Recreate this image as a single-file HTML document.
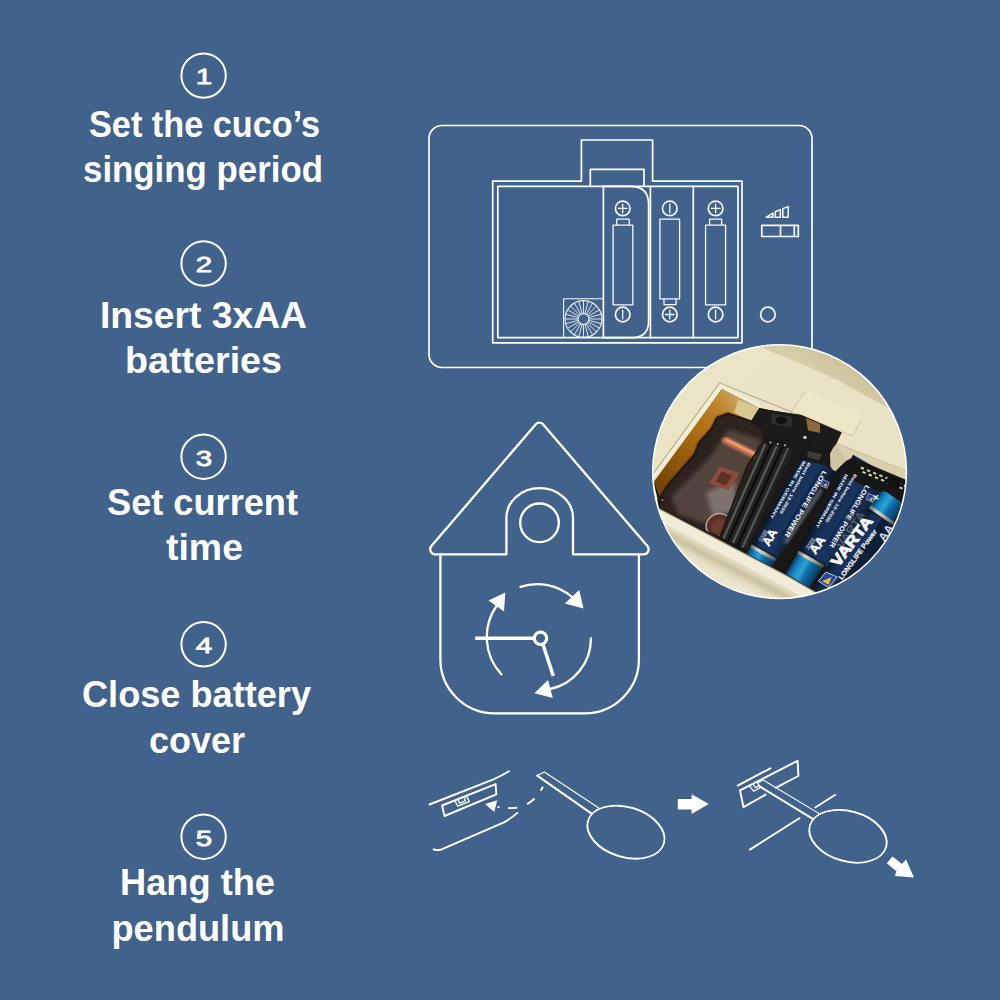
<!DOCTYPE html>
<html lang="en">
<head>
<meta charset="utf-8">
<title>Cuckoo clock setup steps</title>
<style>
html,body{margin:0;padding:0;background:#41628a;}
body{width:1000px;height:1000px;overflow:hidden;}
svg{display:block;}
.t{font-family:"Liberation Sans",sans-serif;font-weight:700;font-size:37px;fill:#fff;}
.n{font-family:"Liberation Sans",sans-serif;font-weight:400;font-size:22px;fill:#fff;stroke:#fff;stroke-width:.8;}
.c{fill:none;stroke:#fff;stroke-width:2;}
.l{fill:none;stroke:#fff;stroke-width:1.7;stroke-linejoin:round;stroke-linecap:round;}
.h{fill:none;stroke:#fff;stroke-width:2.3;stroke-linejoin:round;stroke-linecap:round;}
.p{fill:none;stroke:#fff;stroke-width:1.9;stroke-linejoin:round;stroke-linecap:round;}
.l1{fill:none;stroke:#f4f8fc;stroke-width:1.3;stroke-linejoin:round;stroke-linecap:round;}
</style>
</head>
<body>
<svg width="1000" height="1000" viewBox="0 0 1000 1000">
<rect width="1000" height="1000" fill="#41628a"/>

<!-- STEPS TEXT -->
<g id="steps">
<circle class="c" cx="203.6" cy="75.6" r="22.2"/>
<text class="n" x="195.8" y="84.3" textLength="16.4" lengthAdjust="spacingAndGlyphs">1</text>
<text class="t" x="89" y="136.7" textLength="231" lengthAdjust="spacingAndGlyphs">Set the cuco’s</text>
<text class="t" x="83" y="182" textLength="240" lengthAdjust="spacingAndGlyphs">singing period</text>

<circle class="c" cx="203.6" cy="263.5" r="22.2"/>
<text class="n" x="195.8" y="272.3" textLength="16.4" lengthAdjust="spacingAndGlyphs">2</text>
<text class="t" x="100" y="327.7" textLength="207" lengthAdjust="spacingAndGlyphs">Insert 3xAA</text>
<text class="t" x="125" y="372.5" textLength="157" lengthAdjust="spacingAndGlyphs">batteries</text>

<circle class="c" cx="203.6" cy="456.7" r="22.2"/>
<text class="n" x="195.8" y="465.5" textLength="16.4" lengthAdjust="spacingAndGlyphs">3</text>
<text class="t" x="107" y="514.5" textLength="191" lengthAdjust="spacingAndGlyphs">Set current</text>
<text class="t" x="166" y="560.4" textLength="77" lengthAdjust="spacingAndGlyphs">time</text>

<circle class="c" cx="203.6" cy="644.3" r="22.2"/>
<text class="n" x="195.8" y="653.1" textLength="16.4" lengthAdjust="spacingAndGlyphs">4</text>
<text class="t" x="82" y="706.7" textLength="229" lengthAdjust="spacingAndGlyphs">Close battery</text>
<text class="t" x="149" y="752.6" textLength="96" lengthAdjust="spacingAndGlyphs">cover</text>

<circle class="c" cx="203.6" cy="836.7" r="22.2"/>
<text class="n" x="195.8" y="845.5" textLength="16.4" lengthAdjust="spacingAndGlyphs">5</text>
<text class="t" x="120" y="895" textLength="155" lengthAdjust="spacingAndGlyphs">Hang the</text>
<text class="t" x="111.5" y="941" textLength="173" lengthAdjust="spacingAndGlyphs">pendulum</text>
</g>

<!-- BATTERY DIAGRAM -->
<g id="battery">
<rect class="l" x="429" y="125.5" width="383" height="242" rx="13" ry="13"/>
<path class="l" d="M492.7 342.8V181.2H581.4V140H652.6V181.2H742V342.8Z"/>
<path class="l" d="M497.8 186.3H738V337.6H497.8Z"/>
<path class="l" d="M590.3 186.3V169.3H644V186.3"/>
<path class="l" d="M603.4 186.3V337.6M650.4 186.3V337.6M693.3 186.3V337.6"/>
<path class="l" d="M603.4 186.3H631.5Q648.6 187 648.6 204V321Q648.6 337 633 337.6H603.4"/>
<circle class="l1" cx="622.7" cy="208.4" r="7.3" style="stroke-width:1.7"/><path class="l1" d="M622.7 204.1V212.7M618.4 208.4H627"/>
<circle class="l1" cx="669.8" cy="208.4" r="7.3" style="stroke-width:1.7"/><path class="l1" d="M669.8 204.1V212.7"/>
<circle class="l1" cx="715.6" cy="208.4" r="7.3" style="stroke-width:1.7"/><path class="l1" d="M715.6 204.1V212.7M711.3 208.4H719.9"/>
<circle class="l1" cx="622.7" cy="314.5" r="7.3" style="stroke-width:1.7"/><path class="l1" d="M622.7 310.2V318.8"/>
<circle class="l1" cx="669.8" cy="314.5" r="7.3" style="stroke-width:1.7"/><path class="l1" d="M669.8 310.2V318.8M665.5 314.5H674.1"/>
<circle class="l1" cx="715.6" cy="314.5" r="7.3" style="stroke-width:1.7"/><path class="l1" d="M715.6 310.2V318.8"/>
<path class="l1" d="M613.1 225.2H632.8V304.9H613.1ZM616.7 225.2V219.2H629.2V225.2"/>
<path class="l1" d="M659.9 219.2H679.6V298.9H659.9ZM664 298.9V304.6H676V298.9"/>
<path class="l1" d="M705.6 225.2H725.6V304.9H705.6ZM709.6 225.2V219.2H721.6V225.2"/>
<circle class="l1" cx="767.9" cy="314.5" r="7.3" style="stroke-width:1.7"/>
<path class="l1" style="stroke-width:1.7" d="M761.8 225.3H798.3V236.5H761.8ZM780.5 225.3V236.5M794.3 225.3V236.5"/>
<path class="l1" style="stroke-width:1.5" d="M766.3 217.2L773 213.2V217.2ZM775.3 217.2V211.8L780.3 209.6V217.2ZM782.8 217.2V208.6L788.2 206.6V217.2Z"/>
<path class="l1" style="stroke-width:1.1" d="M603.4 298.7H563.6V337.6"/>
<circle class="l1" style="stroke-width:1.1;opacity:.9" cx="583.5" cy="319" r="18.4"/>
<circle class="l1" style="stroke-width:1.1;opacity:.9" cx="583.5" cy="319" r="5.4"/>
<path class="l1" style="stroke-width:1;opacity:.85;stroke-linecap:butt" d="M588.90 319.00L601.90 319.00M588.72 320.40L601.27 323.76M588.18 321.70L599.43 328.20M587.32 322.82L596.51 332.01M586.20 323.68L592.70 334.93M584.90 324.22L588.26 336.77M583.50 324.40L583.50 337.40M582.10 324.22L578.74 336.77M580.80 323.68L574.30 334.93M579.68 322.82L570.49 332.01M578.82 321.70L567.57 328.20M578.28 320.40L565.73 323.76M578.10 319.00L565.10 319.00M578.28 317.60L565.73 314.24M578.82 316.30L567.57 309.80M579.68 315.18L570.49 305.99M580.80 314.32L574.30 303.07M582.10 313.78L578.74 301.23M583.50 313.60L583.50 300.60M584.90 313.78L588.26 301.23M586.20 314.32L592.70 303.07M587.32 315.18L596.51 305.99M588.18 316.30L599.43 309.80M588.72 317.60L601.27 314.24"/>
</g>

<!-- HOUSE -->
<g id="house">
<path class="h" d="M506.4 554.3H435.2 A5 5 0 0 1 431.4 546.1 L535.6 424.4 A5 5 0 0 1 543.2 424.4 L647.4 546.1 A5 5 0 0 1 643.6 554.3 H573 V518 A33.3 30 0 0 0 506.4 518Z"/>
<circle class="h" cx="539.5" cy="522.8" r="19.3"/>
<path class="h" d="M440.4 554.3V659.3A54 54 0 0 0 494.4 713.3H584.9A54 54 0 0 0 638.9 659.3V554.3"/>
<path class="h" style="stroke-width:3.5;stroke-linecap:butt" d="M475.2 638.3H534M543 644.5L553.3 676"/>
<circle class="h" style="stroke-width:3.2" cx="540.5" cy="638.3" r="6.2"/>
<path class="h" style="stroke-width:2.3" d="M501.3 674.3A54.8 54.8 0 0 1 496.5 606M520.5 586.8A53.6 53.6 0 0 1 572 597M590.9 638.3A51.5 51.5 0 0 1 550 689"/>
<path fill="#fff" d="M505.3 592.4L488.5 600.4L504 611.6ZM583.5 608.4L579.2 590L564.8 603.6ZM534.4 693.2L548 680.1L552.8 698Z"/>
</g>

<!-- PHOTO -->
<g id="photo" transform="translate(640 340) scale(.28)">
<defs>
<clipPath id="pc"><circle cx="498.5" cy="470" r="453"/></clipPath>
<filter id="b2" x="-20%" y="-20%" width="140%" height="140%"><feGaussianBlur stdDeviation="2"/></filter>
<filter id="b4" x="-20%" y="-20%" width="140%" height="140%"><feGaussianBlur stdDeviation="4"/></filter>
<filter id="b8" x="-30%" y="-30%" width="160%" height="160%"><feGaussianBlur stdDeviation="8"/></filter>
<filter id="b14" x="-40%" y="-40%" width="180%" height="180%"><feGaussianBlur stdDeviation="14"/></filter>
<linearGradient id="gcream" x1="0" y1="0" x2="1" y2="1"><stop offset="0" stop-color="#ece6c8"/><stop offset="1" stop-color="#e6dfc0"/></linearGradient>
<linearGradient id="gor" gradientUnits="userSpaceOnUse" x1="430" y1="240" x2="60" y2="510"><stop offset="0" stop-color="#d2b87c"/><stop offset=".28" stop-color="#bd8126"/><stop offset=".6" stop-color="#a4660f"/><stop offset="1" stop-color="#74450a"/></linearGradient>
<linearGradient id="gnavy" x1="0" y1="0" x2="1" y2="0"><stop offset="0" stop-color="#0a1626"/><stop offset=".18" stop-color="#163058"/><stop offset=".5" stop-color="#18355f"/><stop offset=".8" stop-color="#10233e"/><stop offset="1" stop-color="#08101c"/></linearGradient>
<linearGradient id="gblue" x1="0" y1="0" x2="1" y2="0"><stop offset="0" stop-color="#0a3f66"/><stop offset=".2" stop-color="#1583bd"/><stop offset=".42" stop-color="#2aa3d6"/><stop offset=".6" stop-color="#0f6ea8"/><stop offset="1" stop-color="#083557"/></linearGradient>
<linearGradient id="gsil" x1="0" y1="0" x2="1" y2="0"><stop offset="0" stop-color="#5a6a72"/><stop offset=".3" stop-color="#d9d6c4"/><stop offset=".55" stop-color="#b9b7a6"/><stop offset="1" stop-color="#3c4850"/></linearGradient>
</defs>
<g clip-path="url(#pc)">
<rect x="0" y="0" width="1000" height="1000" fill="url(#gcream)"/>
<linearGradient id="gband" gradientUnits="userSpaceOnUse" x1="640" y1="120" x2="720" y2="0"><stop offset="0" stop-color="#d6cea9"/><stop offset="1" stop-color="#c4bb92"/></linearGradient>
<polygon points="400,10 428,25 598,95 708,145 885,242 1000,300 1000,0 400,0" fill="url(#gband)" filter="url(#b2)"/>
<path d="M540 258L588 186Q596 172 612 180L782 256Q798 264 790 280L768 330Q762 342 748 338L720 328L575 266Z" fill="#ede6c7" stroke="#d3cba6" stroke-width="4"/>
<path d="M590 184Q596 172 612 180L782 256Q798 264 790 280" fill="none" stroke="#f6f2dc" stroke-width="3"/>
<polygon points="699,368 1000,486 1000,560 740,440 700,425" fill="#d9d1ae"/>
<path d="M699 368L1000 486" stroke="#c9c19c" stroke-width="4" filter="url(#b2)"/>
<polygon points="293,175 426,243 460,250 575,268 720,330 700,372 690,385 740,440 1000,560 1000,1000 700,1000 640,905 536,846 71,601 50,513" fill="#181716"/>
<polygon points="678,366 700,372 738,430 716,452 694,474 678,448" fill="#cfc4a0"/>
<polygon points="293,175 426,243 396,290 316,263 276,278 256,318 211,368 196,408 101,518 72,566 50,505" fill="url(#gor)"/>
<polygon points="352,214 426,243 396,290 336,258" fill="#d9c791" filter="url(#b2)"/>
<path d="M316 263L276 278L256 318L211 368L196 408L101 518L72 566" fill="none" stroke="#4a2a10" stroke-width="9" filter="url(#b4)"/>
<path d="M52 500L293 172L432 242" stroke="#f1edd6" stroke-width="13" fill="none" stroke-linejoin="miter" transform="translate(-5 -7)"/>
<path d="M44 482L284 153L542 257" stroke="#a9a27a" stroke-width="4" fill="none" stroke-linejoin="miter" filter="url(#b2)" opacity=".85"/>
<polygon points="316,263 396,290 440,320 446,358 386,446 286,706 226,681 71,601 66,571 101,518 196,408 211,368 256,318 276,278" fill="#2f2320"/>
<polygon points="316,318 436,358 380,470 330,590 236,656 136,621 111,561 250,420" fill="#54463f" filter="url(#b8)" opacity=".95"/>
<polygon points="236,546 336,496 346,611 261,631" fill="#7d726c" filter="url(#b8)"/>
<polygon points="246,511 286,451 356,476 316,536" fill="#8c4c3c" filter="url(#b2)"/>
<polygon points="270,505 292,470 330,485 306,520" fill="#5c3028" filter="url(#b2)"/>
<polygon points="266,300 300,312 190,470 160,455" fill="#2c201d" filter="url(#b2)"/>
<path d="M306 358L416 413" stroke="#c67650" stroke-width="26" stroke-linecap="round" filter="url(#b4)"/>
<path d="M312 358L408 406" stroke="#ee9a70" stroke-width="10" stroke-linecap="round" filter="url(#b2)"/>
<ellipse cx="281" cy="661" rx="46" ry="40" fill="#5a3028" stroke="#b8aaa0" stroke-width="5" transform="rotate(-25 281 661)"/>
<ellipse cx="283" cy="665" rx="30" ry="25" fill="#6b3a30" transform="rotate(-25 283 665)"/>
<circle cx="80" cy="572" r="9" fill="#1d1512"/><circle cx="80" cy="572" r="4" fill="#8d8078"/>
<polygon points="316,263 396,290 440,320 446,358 386,446 286,706 226,681 71,601 66,571 101,518 196,408 211,368 256,318 276,278" fill="none" stroke="#241815" stroke-width="8" stroke-linejoin="round"/>
<polygon points="396,290 426,243 460,250 575,268 720,330 700,372 690,385 660,440 600,430 560,420 560,362 446,340 436,318" fill="#1b1b1a"/>
<polygon points="470,262 545,276 540,312 470,300" fill="#2e2e2c"/>
<ellipse cx="505" cy="287" rx="20" ry="14" fill="#111"/>
<polygon points="593,279 643,300 643,332 600,322" fill="#8a6a3a" filter="url(#b2)"/>
<polygon points="614,375 643,382 643,430 620,425" fill="#6a5a4a" filter="url(#b2)"/>
<circle cx="589" cy="348" r="6" fill="#d8d4c8"/>
<circle cx="594" cy="392" r="4" fill="#b8b4a8"/>
<polygon points="446,340 560,362 381,748 286,704" fill="#222221"/>
<path d="M460.2 342.8L297.9 709.5" stroke="#5a5a56" stroke-width="8"/>
<path d="M480.6 346.7L314.8 717.4" stroke="#0c0c0c" stroke-width="8"/>
<path d="M501.0 350.6L331.8 725.2" stroke="#5a5a56" stroke-width="8"/>
<path d="M521.3 354.5L348.8 733.1" stroke="#0c0c0c" stroke-width="8"/>
<path d="M541.7 358.5L365.7 740.9" stroke="#545456" stroke-width="8"/>
<polygon points="440,338 566,360 560,392 436,368" fill="#19191a"/>
<circle cx="466" cy="366" r="3.5" fill="#c9c9c4"/>
<circle cx="492" cy="371" r="3.5" fill="#c9c9c4"/>
<circle cx="518" cy="376" r="3.5" fill="#c9c9c4"/>
<polygon points="560,362 600,430 420,790 381,748" fill="#1c1a19"/>
</g>
<g clip-path="url(#pc)">
<g transform="translate(396 736) rotate(29.5)">
<polygon points="0,-385 141,-381 102.7,-6 0,-6" fill="url(#gnavy)"/>
<polygon points="0,5 101.5,5 91,115 0,115" fill="url(#gblue)"/>
<polygon points="0,-7 102.7,-7 101.4,6 0,6" fill="url(#gsil)"/>
<polygon points="0,-12 103,-12 102.7,-7 0,-7" fill="#0a1422" opacity=".7"/>
<polygon points="112,-300 128,-300 110,-70 94,-70" fill="#8a8078" opacity=".55" filter="url(#b4)"/>
<path d="M84 -360L76 -60" stroke="#0a1626" stroke-width="3" opacity=".8"/>
</g>
<g transform="translate(564 758) rotate(29.5)">
<polygon points="0,-400 175,-400 150,-6 0,-6" fill="url(#gnavy)"/>
<polygon points="0,5 104,5 96,100 0,100" fill="url(#gblue)"/>
<path d="M0 96Q50 122 100 96V130H0Z" fill="#0a0d12"/>
<polygon points="0,-7 105,-7 104,6 0,6" fill="url(#gsil)"/>
<polygon points="0,-12 105,-12 105,-7 0,-7" fill="#0a1422" opacity=".7"/>
<path d="M84 -390L76 -60" stroke="#0a1626" stroke-width="3" opacity=".8"/>
</g>
<polygon points="556,418 600,372 678,388 680,448 676,452 572,424" fill="#191919"/>
<polygon points="600,396 650,408 640,430 596,418" fill="#3a3a38" filter="url(#b2)"/>
<polygon points="716,452 738,430 760,420 1000,520 1000,600 900,560 800,520 730,486 694,474" fill="#161616"/>
<rect x="790" y="452" width="12" height="7" fill="#d9d3b8" transform="rotate(22 790 452)"/>
<rect x="796" y="468" width="12" height="7" fill="#d9d3b8" transform="rotate(22 796 468)"/>
<rect x="812" y="461.2" width="12" height="7" fill="#d9d3b8" transform="rotate(22 812 461.2)"/>
<rect x="818" y="477.2" width="12" height="7" fill="#d9d3b8" transform="rotate(22 818 477.2)"/>
<rect x="834" y="470.4" width="12" height="7" fill="#d9d3b8" transform="rotate(22 834 470.4)"/>
<rect x="840" y="486.4" width="12" height="7" fill="#d9d3b8" transform="rotate(22 840 486.4)"/>
<rect x="856" y="479.6" width="12" height="7" fill="#d9d3b8" transform="rotate(22 856 479.6)"/>
<rect x="862" y="495.6" width="12" height="7" fill="#d9d3b8" transform="rotate(22 862 495.6)"/>
<rect x="878" y="488.8" width="12" height="7" fill="#d9d3b8" transform="rotate(22 878 488.8)"/>
<rect x="884" y="504.8" width="12" height="7" fill="#d9d3b8" transform="rotate(22 884 504.8)"/>
<rect x="900" y="498" width="12" height="7" fill="#d9d3b8" transform="rotate(22 900 498)"/>
<rect x="906" y="514" width="12" height="7" fill="#d9d3b8" transform="rotate(22 906 514)"/>
<rect x="922" y="507.2" width="12" height="7" fill="#d9d3b8" transform="rotate(22 922 507.2)"/>
<rect x="928" y="523.2" width="12" height="7" fill="#d9d3b8" transform="rotate(22 928 523.2)"/>
<rect x="944" y="516.4" width="12" height="7" fill="#d9d3b8" transform="rotate(22 944 516.4)"/>
<rect x="950" y="532.4" width="12" height="7" fill="#d9d3b8" transform="rotate(22 950 532.4)"/>
<rect x="966" y="525.6" width="12" height="7" fill="#d9d3b8" transform="rotate(22 966 525.6)"/>
<rect x="972" y="541.6" width="12" height="7" fill="#d9d3b8" transform="rotate(22 972 541.6)"/>
<ellipse cx="905" cy="508" rx="28" ry="16" fill="#111" transform="rotate(22 905 508)"/>
<g transform="translate(820 596) rotate(35)">
<rect x="0" y="4" width="150" height="420" fill="url(#gnavy)"/>
<rect x="60" y="4" width="90" height="420" fill="#0e2038"/>
<path d="M0 -6V-60Q2 -76 22 -78H100V-6Z" fill="url(#gblue)"/>
<rect x="0" y="-7" width="110" height="13" fill="url(#gsil)"/>
<rect x="0" y="6" width="110" height="5" fill="#0a1422" opacity=".6"/>
</g>
<text transform="translate(653.6 465.0) rotate(120.5)" font-family="Liberation Sans, sans-serif" font-weight="700" font-size="23" textLength="271" lengthAdjust="spacingAndGlyphs" fill="#fff">LONGLIFE POWER</text>
<text transform="translate(601.0 437.0) rotate(119.6)" font-family="Liberation Sans, sans-serif" font-weight="700" font-size="15" textLength="207" lengthAdjust="spacingAndGlyphs" fill="#fff">Best before 12-2030</text>
<text transform="translate(583.0 430.0) rotate(120.2)" font-family="Liberation Sans, sans-serif" font-weight="700" font-size="15" textLength="237" lengthAdjust="spacingAndGlyphs" fill="#fff">MADE IN GERMANY</text>
<text transform="translate(460.5 739.3) rotate(-60.0)" font-family="Liberation Sans, sans-serif" font-weight="700" font-size="42" textLength="62" lengthAdjust="spacingAndGlyphs" fill="#fff" stroke="#fff" stroke-width="1.5">AA</text>
<text transform="translate(436.0 722.0) rotate(-60.0)" font-family="Liberation Sans, sans-serif" font-weight="700" font-size="9" textLength="44" lengthAdjust="spacingAndGlyphs" fill="#e8e8e8">LR6·MN1500</text>
<text transform="translate(428.0 718.0) rotate(-60.0)" font-family="Liberation Sans, sans-serif" font-weight="700" font-size="9" textLength="44" lengthAdjust="spacingAndGlyphs" fill="#e8e8e8">1.5V ALKALINE</text>
<polygon points="652,498 676,508 668,530 644,520" fill="#2440a0" stroke="#dfe4f0" stroke-width="2"/>
<polygon points="654,518 668,512 664,526" fill="#f0c020"/>
<text transform="translate(807.0 516.0) rotate(120.8)" font-family="Liberation Sans, sans-serif" font-weight="700" font-size="23" textLength="256" lengthAdjust="spacingAndGlyphs" fill="#fff">LONGLIFE POWER</text>
<text transform="translate(766.0 478.0) rotate(121.5)" font-family="Liberation Sans, sans-serif" font-weight="700" font-size="15" textLength="199" lengthAdjust="spacingAndGlyphs" fill="#fff">Best before 12-2030</text>
<text transform="translate(734.0 478.0) rotate(119.5)" font-family="Liberation Sans, sans-serif" font-weight="700" font-size="15" textLength="218" lengthAdjust="spacingAndGlyphs" fill="#fff">MADE IN GERMANY</text>
<text transform="translate(627.0 768.0) rotate(-55.0)" font-family="Liberation Sans, sans-serif" font-weight="700" font-size="44" textLength="66" lengthAdjust="spacingAndGlyphs" fill="#fff" stroke="#fff" stroke-width="1.5">AA</text>
<text transform="translate(603.0 750.0) rotate(-55.0)" font-family="Liberation Sans, sans-serif" font-weight="700" font-size="9" textLength="44" lengthAdjust="spacingAndGlyphs" fill="#e8e8e8">LR6·MN1500</text>
<text transform="translate(595.0 745.0) rotate(-55.0)" font-family="Liberation Sans, sans-serif" font-weight="700" font-size="9" textLength="44" lengthAdjust="spacingAndGlyphs" fill="#e8e8e8">1.5V ALKALINE</text>
<polygon points="816,548 840,558 832,580 808,570" fill="#2440a0" stroke="#dfe4f0" stroke-width="2"/>
<polygon points="818,568 832,562 828,576" fill="#f0c020"/>
<text transform="translate(722.0 748.0) rotate(-56.0)" font-family="Liberation Sans, sans-serif" font-weight="700" font-size="40" textLength="150" lengthAdjust="spacingAndGlyphs" fill="#8f8a86" opacity=".55">VARTA</text>
<text transform="translate(708.3 813.1) rotate(-52.8)" font-family="Liberation Sans, sans-serif" font-weight="700" font-size="54" textLength="208" lengthAdjust="spacingAndGlyphs" fill="#f4f4f2" stroke="#f4f4f2" stroke-width="3.5">VARTA</text>
<text transform="translate(721.1 858.1) rotate(-53.9)" font-family="Liberation Sans, sans-serif" font-weight="700" font-size="25" textLength="215" lengthAdjust="spacingAndGlyphs" fill="#f4f4f2" stroke="#f4f4f2" stroke-width=".8">LONGLIFE Power</text>
<text transform="translate(846.0 580.0) rotate(-52.0)" font-family="Liberation Sans, sans-serif" font-weight="700" font-size="44" textLength="24" lengthAdjust="spacingAndGlyphs" fill="#e8f4fa">+</text>
<text transform="translate(872.0 722.0) rotate(-55.0)" font-family="Liberation Sans, sans-serif" font-weight="700" font-size="42" textLength="62" lengthAdjust="spacingAndGlyphs" fill="#cfd8e4">AA</text>
<polygon points="664,829 704,846 674,884 637,861" fill="#2346a8" stroke="#e6e9f2" stroke-width="3"/>
<polygon points="650,862 684,846 674,874" fill="#f2c21a"/>
<polygon points="30,580 71,601 536,846 640,905 760,1000 0,1000 0,580" fill="#e3ddc0"/>
<path d="M40 590L536 851L700 945" stroke="#f0ecd8" stroke-width="34" fill="none" transform="translate(-8 18)"/>
<path d="M40 590L536 851L700 945" stroke="#c9c1a0" stroke-width="26" fill="none" transform="translate(-22 62)" filter="url(#b8)"/>
<path d="M40 590L536 851L700 945" stroke="#ebe6cd" stroke-width="30" fill="none" transform="translate(-40 110)" filter="url(#b8)"/>
<path d="M60 596L536 846L660 918" stroke="#2a2520" stroke-width="5" fill="none" filter="url(#b2)" opacity=".7"/>
</g>
<circle cx="498.5" cy="470" r="453" fill="none" stroke="#fff" stroke-width="5.5"/>
</g>

<!-- PENDULUM -->
<g id="pendulum">
<path class="p" d="M429.5 804.5L492.8 779.6Q502 775.6 508.9 771.2"/>
<path class="p" d="M442.1 805.5L495.6 784.1L496.3 794.3L444.5 816Z"/>
<path class="p" style="stroke-width:1.3" d="M455 801L457.8 806.2L469.3 801.6L466.9 796.7M458.3 800.3L459.6 803.2L465.6 800.8L464.5 798"/>
<path class="p" d="M433.7 849.3Q437 850.8 441 849.6L504 822.3Q511 818.5 517.3 812.9"/>
<path fill="#fff" d="M485.1 804.1L497.3 800.3L494.2 812.1Z"/>
<path class="p" style="stroke-width:1.9;stroke-linecap:butt" d="M497.5 806.8L499.5 807.3M508.2 808Q513 808.3 517.3 807.6M527.1 804.1Q531.3 801.8 534.5 798.5M540.7 790.8Q542 788.8 542.9 786.6"/>
<path class="p" style="stroke-width:1.1" d="M537.2 775.6L544.4 772L598.8 808"/>
<path class="p" style="stroke-width:2" d="M537.2 775.6L591.6 813.6"/>
<g transform="rotate(16.8 626.25 831.85)"><ellipse class="p" style="stroke-width:1.2" cx="626.25" cy="831.85" rx="39.6" ry="25"/></g>
<g transform="rotate(16.8 625.65 832.45)"><ellipse class="p" style="stroke-width:1.2" cx="625.65" cy="832.45" rx="39.6" ry="25"/></g>
<path fill="#fff" d="M677.8 798.9H691.6V794.3L708.8 804L691.6 813.9V809.6H677.8Z"/>
<path class="p" d="M737.6 785.6L770.4 768.3"/>
<path class="p" d="M765.6 794.6L743.5 807.2L740 790.4L797.6 760.8L798.4 776L776 787.7"/>
<path class="p" style="stroke-width:1.2" d="M749.6 786.2L753.6 791.2L760 787.8M753 784.2L755.8 787.8L759.5 785.8L757.6 783"/>
<path class="p" style="stroke-width:1.1" d="M757.6 783L763.2 780L819.6 813.9"/>
<path class="p" style="stroke-width:2" d="M758.4 785.6L813.2 819.2"/>
<path class="p" d="M815.3 807.5L835.3 794.7"/>
<path class="p" d="M749.9 849.6L799.4 818.2"/>
<g transform="rotate(15.5 848.3 836)"><ellipse class="p" style="stroke-width:1.2" cx="848.3" cy="836" rx="39.6" ry="25.1"/></g>
<g transform="rotate(15.5 847.7 836.6)"><ellipse class="p" style="stroke-width:1.2" cx="847.7" cy="836.6" rx="39.6" ry="25.1"/></g>
<path fill="#fff" d="M886.8 863.2L892.4 856.5L902 864L906 859.5L914 877.6L894.8 876L896.4 871.2Z"/>
</g>
</svg>
</body>
</html>
